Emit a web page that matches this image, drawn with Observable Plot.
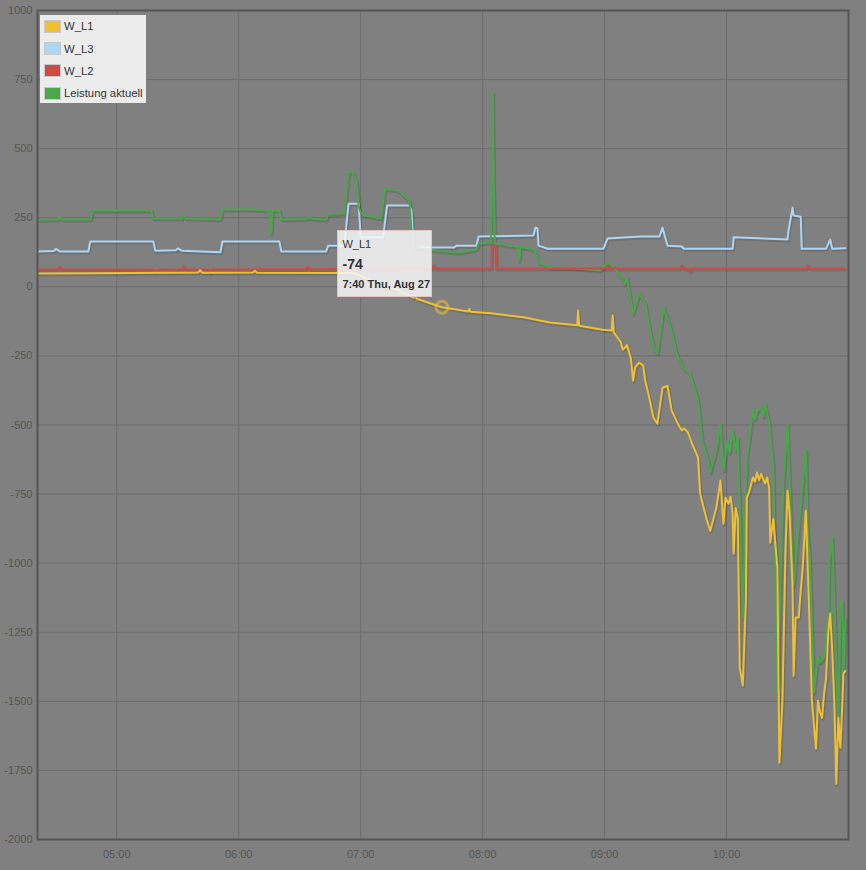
<!DOCTYPE html>
<html>
<head>
<meta charset="utf-8">
<script src="https://cdn.jsdelivr.net/npm/d3@7"></script>
<script src="https://cdn.jsdelivr.net/npm/@observablehq/plot@0.6"></script>
<style>
  html, body { margin: 0; padding: 0; background: #808080; }
  #wrap { position: relative; width: 866px; height: 870px; font-family: "Liberation Sans", Arial, sans-serif; }
  #legend { position: absolute; left: 40px; top: 15px; width: 106px; height: 88px; background: #ececec; box-sizing: border-box; padding: 0 0 0 4px; }
  .li { height: 22.4px; display: flex; align-items: center; font-size: 11.3px; color: #333; white-space: nowrap; }
  .sw { width: 15px; height: 11px; border: 1px solid #c8c8c8; margin-right: 3px; }
  #tip { position: absolute; width: 95px; height: 67px; box-sizing: border-box; background: rgba(248,248,248,0.85); border: 1px solid #e6c4c4; color: #333; padding: 6px 0 0 4px; }
  #tip .s { font-size: 11px; line-height: 14px; }
  #tip .v { font-size: 14px; font-weight: bold; line-height: 22px; margin-top: 2px; }
  #tip .d { font-size: 11px; font-weight: bold; line-height: 15px; margin-top: 2px; }
</style>
</head>
<body>
<div id="wrap"></div>
<script>
// ---------- data ----------
const seriesNames = ["W_L1", "W_L3", "W_L2", "Leistung aktuell"];
const seriesColors = ["#f0c033", "#acd6f6", "#d04a45", "#4aa84a"];
const xTickLabels = ["05:00", "06:00", "07:00", "08:00", "09:00", "10:00"];
const yTicks = [-2000, -1750, -1500, -1250, -1000, -750, -500, -250, 0, 250, 500, 750, 1000];
const xStart = "04:21", xEnd = "11:00";
const day = "2020-08-27";

const wL1 = [
  ["04:21",48],["04:50",49],["05:40",52],["05:41",60],["05:42",51],["06:07",52],["06:08",58],["06:09",51],
  ["06:57",50],["07:04",25],["07:11",0],["07:18",-10],["07:26",-40],["07:27",-30],["07:27:30",-43],
  ["07:40",-74],["07:53",-89],["07:53:30",-80],["07:54",-90],["08:04",-96],["08:20",-110],["08:33",-129],
  ["08:46:30",-139],["08:47",-86],["08:47:30",-141],["08:59",-155],["09:03:30",-158],["09:04",-104],["09:04:30",-165],
  ["09:08",-201],["09:09",-228],["09:11",-211],["09:12",-235],["09:13",-262],["09:14",-340],["09:15",-292],
  ["09:17",-274],["09:19",-285],["09:20",-340],["09:22",-401],["09:24",-473],["09:26",-495],["09:28:30",-365],
  ["09:31",-358],["09:33",-448],["09:36",-495],["09:38",-520],["09:39",-512],["09:41",-527],["09:43",-567],["09:46",-618],
  ["09:47",-748],["09:50",-836],["09:52",-883],["09:55",-799],["09:57",-701],["09:58:30",-857],["09:59:30",-763],
  ["10:01",-785],["10:02",-760],["10:03",-821],["10:03:30",-966],["10:04:30",-800],["10:05:30",-836],["10:06:30",-1378],["10:08",-1443],
  ["10:09:30",-1135],["10:10",-763],["10:11",-745],["10:13",-690],["10:14",-705],["10:15",-672],["10:16",-700],["10:17",-677],
  ["10:18",-695],["10:19",-712],["10:20",-690],["10:21",-730],["10:21:30",-926],
  ["10:23",-840],["10:25",-1016],["10:26",-1722],["10:27:30",-1498],["10:29",-955],["10:30",-738],
  ["10:31",-820],["10:32:30",-1088],["10:33",-1407],["10:34",-1197],["10:35:30",-1197],["10:36:30",-1100],["10:37:30",-1016],["10:39",-810],
  ["10:40:30",-1135],["10:42",-1498],["10:44",-1671],["10:45",-1498],["10:46",-1540],["10:47",-1560],["10:48",-1470],["10:49",-1414],
  ["10:50",-1255],["10:51",-1182],["10:52",-1317],["10:53",-1498],["10:54",-1798],["10:55",-1560],
  ["10:56",-1668],["10:57",-1498],["10:57:30",-1400],["10:58:30",-1390]
];

const wL3 = [
  ["04:21",128],["04:29",130],["04:30",137],["04:32",128],["04:46",128],["04:47",164],["05:18",164],["05:19",131],
  ["05:29",132],["05:30",139],["05:32",131],["05:51",125],["05:52",164],["06:20",164],["06:21",128],["06:43",128],
  ["06:44",149],["06:52",149],["06:54",301],["06:59",301],["07:00",179],["07:11",179],["07:13",294],["07:24",294],
  ["07:25",276],["07:26",142],["07:46",142],["07:47",149],["07:57",149],["07:58",182],["08:25",186],["08:26",215],
  ["08:27",211],["08:27:30",149],["08:32",138],["08:59:30",138],["09:01:30",175],["09:18",182],["09:27",182],
  ["09:28:30",214],["09:31",149],["09:38",146],["09:39",138],["10:03",138],["10:03:30",179],["10:30",171],
  ["10:30:30",204],["10:32:30",286],["10:33",258],["10:36:30",254],["10:37",138],["10:49",138],["10:51",171],
  ["10:52",138],["10:58:30",140]
];

const wL2 = [
  ["04:21",63],["04:31",63],["04:32",73],["04:33",63],["05:18",63],["05:19",55],["05:20",63],["05:32",63],
  ["05:33",73],["05:34",63],["05:45",63],["05:46",52],["05:47",63],["06:33",64],["06:34",73],["06:35",64],
  ["06:54",65],["06:55",70],["06:56",65],["07:35",66],["07:36",77],["07:37",66],["08:04:20",66],["08:04:30",149],
  ["08:06:30",149],["08:06:40",66],["09:01",66],["09:01:30",75],["09:02",66],["09:37",66],["09:38",77],
  ["09:39",66],["09:41",66],["09:42",55],["09:43",66],["10:39",66],["10:40",77],["10:41",66],["10:58:30",66]
];

const wTotal = [
  ["04:21",243],["04:31",244],["04:32",254],["04:33",244],["04:47",244],["04:48",276],["05:17",276],["05:18",247],
  ["05:32",247],["05:33",258],["05:34",247],["05:51",244],["05:52",280],["06:07",280],["06:15",276],["06:16",193],
  ["06:16:30",276],["06:20",276],["06:21",244],["06:34",246],["06:35",254],["06:36",246],["06:43",244],["06:44",262],
  ["06:52",265],["06:53",340],["06:54",417],["06:56",413],["06:58",385],["06:59",290],["07:00",269],["07:01:30",258],
  ["07:10",247],["07:12",355],["07:18",349],["07:20",338],["07:24",312],["07:25",204],["07:26",142],["07:38",131],
  ["07:48",124],["07:57",135],["07:58",157],["08:04",160],["08:04:40",400],["08:05",700],["08:05:20",420],
  ["08:06",157],["08:12",150],["08:17",145],["08:18",95],["08:18:30",145],["08:25",135],["08:26",130],["08:27",100],
  ["08:28",88],["08:33",70],["08:43",68],["08:58",59],["09:01:30",88],["09:04",75],["09:08",34],["09:10",12],
  ["09:11",34],["09:14",-97],["09:17",-24],["09:20",-60],["09:24",-218],["09:26",-241],["09:29",-75],
  ["09:32:30",-148],["09:36",-256],["09:39",-296],["09:42",-314],["09:46",-411],["09:48",-557],["09:51",-629],
  ["09:52",-672],["09:55",-592],["09:57",-495],["09:58:30",-665],["10:00:30",-557],["10:01:30",-600],["10:03",-521],["10:04:30",-592],
  ["10:05:30",-545],["10:08",-1197],["10:09:30",-720],["10:10",-618],["10:11",-560],["10:13",-448],["10:14",-480],["10:15",-450],["10:17",-437],
  ["10:18",-470],["10:19",-424],["10:21",-495],["10:23",-654],["10:25",-1472],["10:28",-700],["10:30",-496],["10:31:30",-800],["10:33",-1081],
  ["10:35:30",-871],["10:39",-592],["10:40",-894],["10:41",-980],["10:43",-1468],["10:45",-1334],["10:46",-1360],["10:48",-1342],
  ["10:50",-1197],["10:50:30",-990],["10:52",-906],["10:53",-1135],["10:55",-1596],["10:56",-1160],["10:57",-1135],
  ["10:57:30",-1400],["10:58:30",-1197]
];

const tipSeries = "W_L1", tipTime = "07:40", tipValue = -74;

// ---------- build ----------
const parse = d3.timeParse("%Y-%m-%d %H:%M:%S");
const toDate = s => parse(day + " " + (s.length === 5 ? s + ":00" : s));
const rows = arr => arr.map(([t, v]) => ({t: toDate(t), v}));
const seriesData = [wL1, wL3, wL2, wTotal].map(rows);
const xTicks = xTickLabels.map(toDate);

const lineMark = i => Plot.line(seriesData[i], {x: "t", y: "v", stroke: seriesColors[i], strokeWidth: 2, strokeLinejoin: "round"});
const shadowMark = i => Plot.line(seriesData[i], {x: "t", y: "v", stroke: "#000", strokeOpacity: 0.12, strokeWidth: 3, dx: 1, dy: 1.5});

const drawOrder = [1, 3, 2, 0];

const chart = Plot.plot({
  width: 866,
  height: 870,
  marginLeft: 37,
  marginRight: 18,
  marginTop: 10,
  marginBottom: 31,
  style: {background: "#808080", fontFamily: "'Liberation Sans', Arial, sans-serif", fontSize: "11px", color: "#555", overflow: "visible"},
  x: {type: "time", domain: [toDate(xStart), toDate(xEnd)]},
  y: {domain: [-2000, 1000]},
  marks: [
    Plot.gridY(yTicks, {stroke: "#6c6c6c", strokeOpacity: 1, strokeWidth: 1}),
    Plot.gridX(xTicks, {stroke: "#6c6c6c", strokeOpacity: 1, strokeWidth: 1}),
    Plot.axisY(yTicks, {tickSize: 0, tickPadding: 5, label: null, fill: "#555", fontSize: 11, tickFormat: d => String(d)}),
    Plot.axisX(xTicks, {tickSize: 0, tickPadding: 11, label: null, fill: "#555", fontSize: 11, tickFormat: d3.timeFormat("%H:%M")}),
    ...drawOrder.map(shadowMark),
    ...drawOrder.map(lineMark),
    Plot.dot([{t: toDate(tipTime), v: tipValue}], {x: "t", y: "v", r: 6, fill: "none", stroke: seriesColors[0], strokeOpacity: 0.55, strokeWidth: 3}),
    Plot.frame({stroke: "#555", strokeWidth: 2})
  ]
});

const wrap = document.getElementById("wrap");
wrap.appendChild(chart);

// legend
const legend = document.createElement("div");
legend.id = "legend";
seriesNames.forEach((n, i) => {
  const li = document.createElement("div");
  li.className = "li";
  const sw = document.createElement("div");
  sw.className = "sw";
  sw.style.background = seriesColors[i];
  const tx = document.createElement("span");
  tx.textContent = n;
  li.appendChild(sw); li.appendChild(tx);
  legend.appendChild(li);
});
wrap.appendChild(legend);

// tooltip anchored to the hovered point via the chart's scales
const px = chart.scale("x").apply(toDate(tipTime));
const py = chart.scale("y").apply(tipValue);
const tip = document.createElement("div");
tip.id = "tip";
tip.style.left = (px - 104) + "px";
tip.style.top = (py - 77) + "px";
const fmt = d3.timeFormat("%-H:%M %a, %b %d");
tip.innerHTML = `<div class="s"></div><div class="v"></div><div class="d"></div>`;
tip.querySelector(".s").textContent = tipSeries;
tip.querySelector(".v").textContent = String(tipValue);
tip.querySelector(".d").textContent = fmt(toDate(tipTime));
wrap.appendChild(tip);
</script>
</body>
</html>
